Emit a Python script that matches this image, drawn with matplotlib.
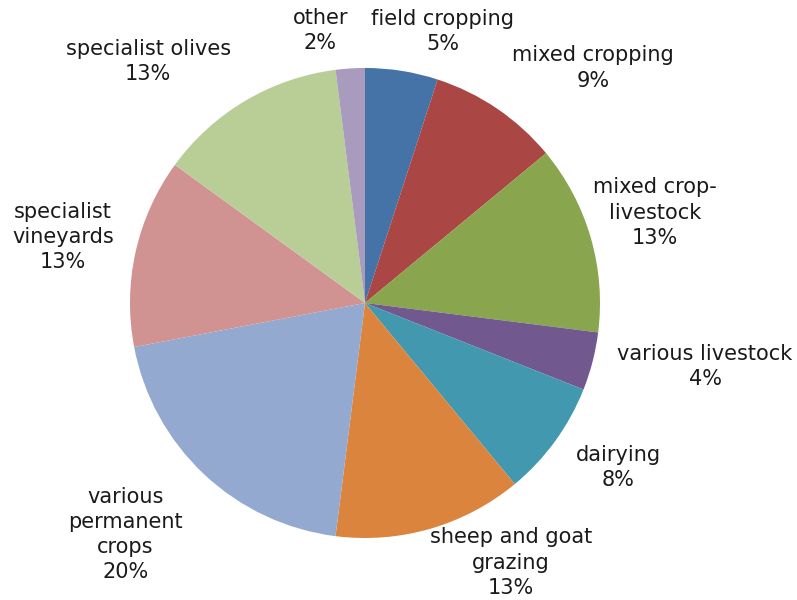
import matplotlib
matplotlib.use("Agg")
import matplotlib.pyplot as plt

# farm types and their share of holdings (%), clockwise from 12 o'clock
categories = [
    "field cropping", "mixed cropping", "mixed crop-\nlivestock",
    "various livestock", "dairying", "sheep and goat\ngrazing",
    "various\npermanent\ncrops", "specialist\nvineyards",
    "specialist olives", "other",
]
shares = [5, 9, 13, 4, 8, 13, 20, 13, 13, 2]
colors = ["#4572A7", "#AA4643", "#89A54E", "#71588F", "#4198AF",
          "#DB843D", "#93A9CF", "#D19392", "#B9CD96", "#A99BBD"]

# label centres, in pie-radius units
label_xy = [(0.33, 1.155), (0.97, 1.0), (1.235, 0.385), (1.447, -0.27),
            (1.077, -0.70), (0.62, -1.105), (-1.02, -0.985), (-1.285, 0.28),
            (-0.923, 1.027), (-0.19, 1.16)]

W, H = 797, 600
cx, cy, R = 365, 303, 235

fig = plt.figure(figsize=(W / 100, H / 100), dpi=100)
ax = fig.add_axes([0, 0, 1, 1])
ax.pie(shares, colors=colors, startangle=90, counterclock=False,
       radius=1.0, wedgeprops=dict(linewidth=0))
ax.set_xlim(-cx / R, (W - cx) / R)
ax.set_ylim(-(H - cy) / R, cy / R)
ax.set_aspect("auto")
ax.axis("off")

for name, val, (x, y) in zip(categories, shares, label_xy):
    ax.text(x, y, "%s\n%d%%" % (name, val), ha="center", va="center",
            fontsize=15, family="DejaVu Sans", linespacing=1.33,
            color="#1a1a1a")

fig.savefig("out.png", dpi=100)
